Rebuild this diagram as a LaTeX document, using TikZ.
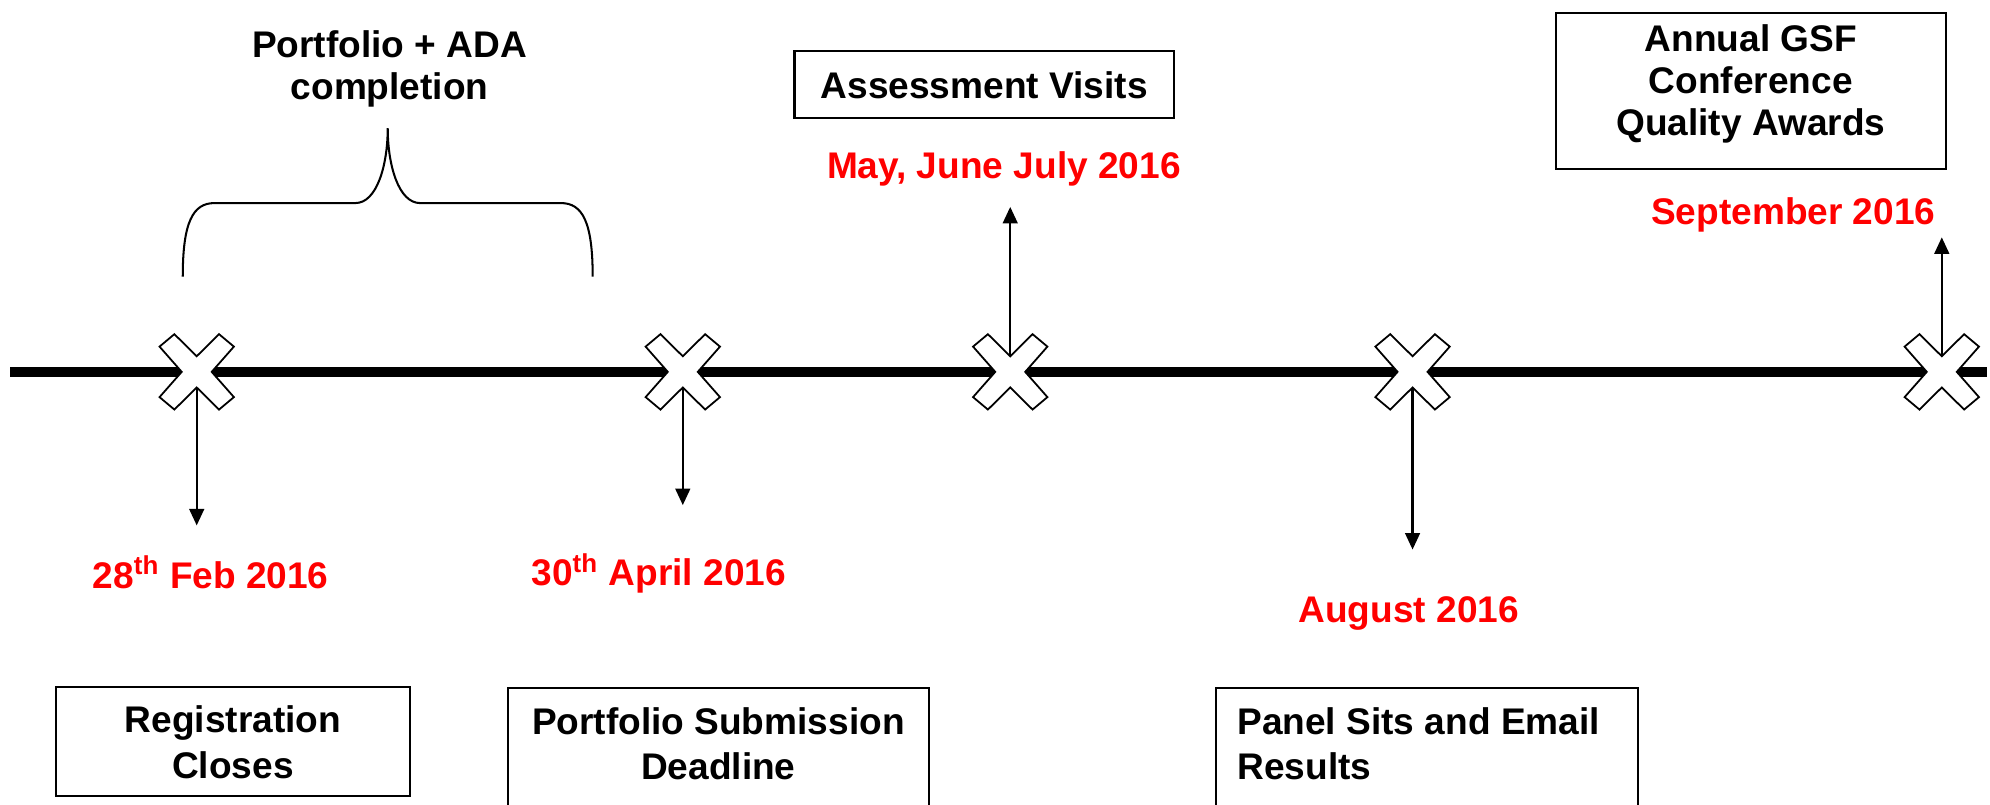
\documentclass[tikz,border=0pt]{standalone}
\usepackage{fontspec}
\setmainfont{Liberation Sans}
\usetikzlibrary{arrows.meta}
\definecolor{datered}{RGB}{255,0,0}
\newcommand\bxt[4]{\parbox[c][#2][t]{#1}{\centering\rule{0pt}{#3}#4}}
\begin{document}
\begin{tikzpicture}[x=0.5pt,y=-0.5pt,
  every node/.style={font=\fontsize{14.6pt}{16.5pt}\selectfont\bfseries, inner sep=0pt},
  datelbl/.style={text=datered, anchor=base},
  eventbox/.style={draw, line width=0.8pt},
  tline/.style={line width=4.2pt},
  conn/.style={line width=0.9pt, -{Triangle[length=6.5pt,width=5.8pt]}},
  bracestyle/.style={line width=0.8pt},
  xm/.pic={\draw[line width=0.7pt, fill=white] (-17.6,-29.7)--(0,-12.3)--(17.6,-29.7)--(29.3,-19.9)--(11.8,0)--(29.3,19.9)--(17.6,29.7)--(0,12.3)--(-17.6,29.7)--(-29.3,19.9)--(-11.8,0)--(-29.3,-19.9)--cycle;}
]
\useasboundingbox (0,0) rectangle (1568,634);
\clip (0,0) rectangle (1568,634);
% timeline
\coordinate (L) at (8,293);
\coordinate (R) at (1566,293);
\draw[tline] (L) -- (R);
% marker positions
\coordinate (x1) at (155,293);
\coordinate (x2) at (538,293);
\coordinate (x3) at (796,293);
\coordinate (x4) at (1113,293);
\coordinate (x5) at (1530,293);
% arrows (drawn under the markers)
\coordinate (t1) at (155,414);
\coordinate (t2) at (538,398);
\coordinate (t3) at (796,163);
\coordinate (t4) at (1113,433);
\coordinate (t5) at (1530,187);
\draw[conn] (x1) -- (t1);
\draw[conn] (x2) -- (t2);
\draw[conn] (x3) -- (t3);
\draw[conn] (x4) -- (t4);
\draw[conn] (x5) -- (t5);
% markers
\foreach \p in {x1,x2,x3,x4,x5} {\pic at (\p) {xm};}
% brace
\coordinate (bl) at (144,218);
\coordinate (btip) at (305.5,101);
\coordinate (br) at (467,218);
\draw[bracestyle] (bl) .. controls (144,175) and (152,160) .. (169,160) -- (280,160)
  .. controls (297,160) and (305.5,130) .. (btip)
  .. controls (305.5,130) and (314,160) .. (331,160) -- (442,160)
  .. controls (459,160) and (467,175) .. (br);
\node[align=center, anchor=north] (ada) at (307,24) {Portfolio + ADA\\completion};
% top boxes
\node[eventbox] (visits) at (775.5,66.5) {\bxt{149.5pt}{26.5pt}{18.75pt}{Assessment Visits}};
\node[datelbl] (d3) at (791,140.5) {May, June July 2016};
\node[eventbox] (conf) at (1379.5,71.5) {\bxt{153.5pt}{61.5pt}{15.25pt}{Annual GSF\\Conference\\Quality Awards}};
\node[datelbl] (d5) at (1413,176.5) {September 2016};
% bottom dates
\node[datelbl] (d1) at (166,463.5) {28\textsuperscript{th} Feb 2016};
\node[datelbl] (d2) at (519,461.5) {30\textsuperscript{th} April 2016};
\node[datelbl] (d4) at (1110,490.5) {August 2016};
% bottom boxes
\node[eventbox] (reg) at (183.5,584) {\bxt{139.5pt}{43pt}{18.25pt}{Registration\\[1.5pt]Closes}};
\node[eventbox] (sub) at (566,596) {\bxt{166pt}{54pt}{18.25pt}{Portfolio Submission\\[1.5pt]Deadline}};
\node[eventbox] (panel) at (1124.5,596) {\parbox[c][54pt][t]{166.5pt}{\raggedright\leftskip=8.5pt\rule{0pt}{18.25pt}Panel Sits and Email\\[1.5pt]Results}};
\end{tikzpicture}
\end{document}
